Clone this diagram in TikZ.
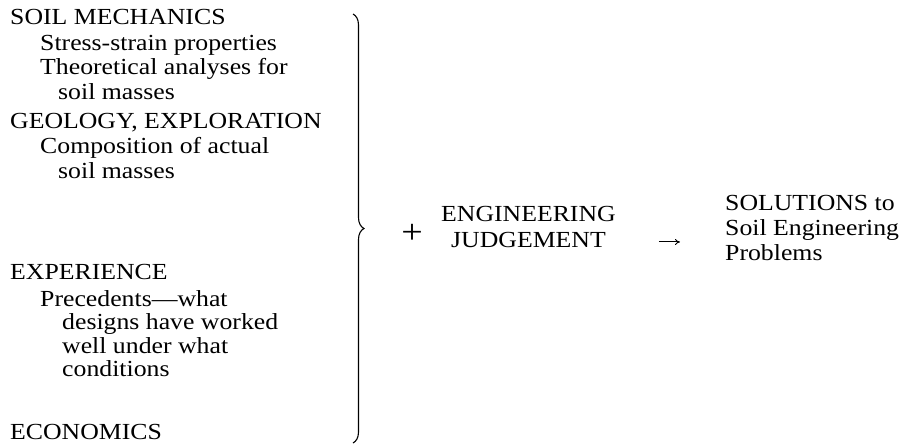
\documentclass[tikz,border=0pt]{standalone}
\usepackage{fontspec}
\setmainfont{Liberation Serif}[FakeStretch=1.12]
\usepackage{tikz}
\usetikzlibrary{calc,decorations.pathreplacing,arrows.meta}

\tikzset{
	line/.style={anchor=base west, inner sep=0pt, font=\fontsize{23}{26}\selectfont},
	arr/.style={-{To[length=5pt,width=6pt]}, line width=0.9pt},
}

\begin{document}
\begin{tikzpicture}[x=1pt,y=-1pt]
			\useasboundingbox (0,0) rectangle (907,445);
			% left column
			\node[line](mech) at (10,24) {SOIL MECHANICS};
			\node[line](stress) at (40,50) {Stress-strain properties};
			\node[line](theo) at (40,74) {Theoretical analyses for};
			\node[line](theob) at (58,99) {soil masses};
			\node[line](geo) at (10,128) {GEOLOGY, EXPLORATION};
			\node[line](comp) at (40,153) {Composition of actual};
			\node[line](compb) at (58,178) {soil masses};
			\node[line](exp) at (10,279) {EXPERIENCE};
			\node[line](prec) at (40,306) {Precedents---what};
			\node[line](precb) at (62,329) {designs have worked};
			\node[line](precc) at (62,353) {well under what};
			\node[line](precd) at (62,376) {conditions};
			\node[line](econ) at (10,439) {ECONOMICS};
			% brace
			\coordinate(btop) at (353,14);
			\coordinate(bbot) at (353,443);
			\draw[line width=1.1pt, decorate, decoration={brace, amplitude=11pt}] (btop) -- (bbot);
			% right part
			\node[inner sep=0pt, font=\fontsize{34}{34}\selectfont](plus) at (412,234) {+};
			\node[inner sep=0pt, align=center, font=\fontsize{23}{26}\selectfont, anchor=north west](judge) at (441,206)
			{
				ENGINEERING\\
				JUDGEMENT
			};
			\node[inner sep=0pt, align=left, font=\fontsize{23}{25}\selectfont, anchor=north west](sol) at (725,195)
			{
				SOLUTIONS to\\
				Soil Engineering\\
				Problems
			};
			\draw[arr, shorten <=43pt, shorten >=45pt] ([yshift=-15pt]judge.east) -- ([yshift=-15pt]judge.east -| sol.west);
		\end{tikzpicture}
\end{document}
